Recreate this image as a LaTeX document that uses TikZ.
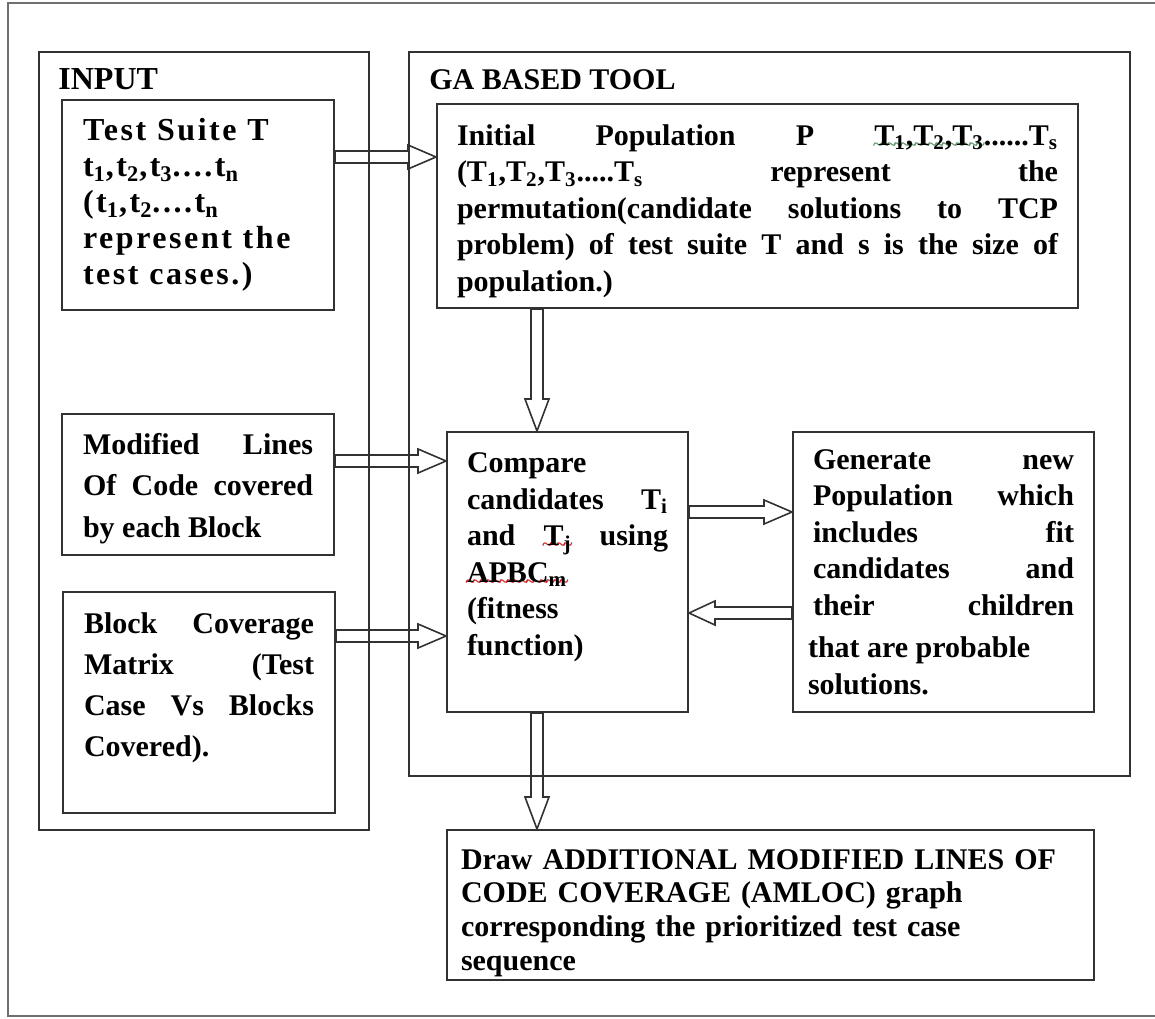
\documentclass[tikz,border=0pt]{standalone}
\usepackage{fontspec}
\setmainfont{Liberation Serif}
\newfontfamily\spacedserif[LetterSpace=8]{Liberation Serif}
\usetikzlibrary{positioning,calc}

\definecolor{frame}{RGB}{50,50,50}
\definecolor{squigred}{RGB}{210,40,40}
\definecolor{squiggreen}{RGB}{100,150,110}

% wavy spelling mark under a piece of text
\newcommand\squig[2]{\setbox0\hbox{#2}\rlap{\textcolor{#1}{\lower2.5pt\hbox to\wd0{\xleaders\hbox{\kern-0.7pt\bfseries\fontsize{9}{9}\selectfont\textasciitilde\kern-0.7pt}\hfil}}}\box0\relax}
% shift node text up (positive) or down (negative)
\newcommand\textlift[1]{\par\vspace*{#1}\hrule height 0pt}

\tolerance=10000
\hyphenpenalty=10000

\begin{document}
\begin{tikzpicture}[x=0.5pt, y=-0.5pt,
    panel/.style={draw=frame, line width=1pt, anchor=north west, inner sep=0pt},
    paneltitle/.style={anchor=base west, inner sep=0pt, font=\bfseries\fontsize{16}{18}\selectfont},
    inbox/.style={draw=frame, line width=1pt, anchor=north west, inner xsep=10.5pt, text width=115pt, align=justify, font=\bfseries\fontsize{15}{20.5}\selectfont},
    gabox/.style={draw=frame, line width=1pt, anchor=north west, inner xsep=10pt, align=justify, font=\bfseries\fontsize{15}{18.25}\selectfont},
    blockarrow/.style={draw=frame, line width=0.8pt, to path={
        let \p1=($(\tikztotarget)-(\tikztostart)$), \n1={veclen(\x1,\y1)-#1} in
        ($(\tikztostart)!3pt!90:(\tikztotarget)$)
        -- ($($(\tikztostart)!\n1!(\tikztotarget)$)!3pt!90:(\tikztotarget)$)
        -- ($($(\tikztostart)!\n1!(\tikztotarget)$)!6pt!90:(\tikztotarget)$)
        -- (\tikztotarget)
        -- ($($(\tikztostart)!\n1!(\tikztotarget)$)!6pt!-90:(\tikztotarget)$)
        -- ($($(\tikztostart)!\n1!(\tikztotarget)$)!3pt!-90:(\tikztotarget)$)
        -- ($(\tikztostart)!3pt!-90:(\tikztotarget)$)
        -- cycle}},
    blockarrow/.default=14pt
]
\useasboundingbox (0,0) rectangle (1155,1018);

% page frame
\draw[frame!70, line width=1pt] (1155,3) -- (8,3) -- (8,1016) -- (1155,1016);

% the two panels
\node[panel, minimum width=165pt, minimum height=389pt] (inp) at (38,51) {};
\node[panel, minimum width=360.5pt, minimum height=362pt] (ga) at (408,51) {};
\node[paneltitle] (inptitle) at (58,89) {INPUT};
\node[paneltitle, font=\bfseries\fontsize{15}{18}\selectfont] (gatitle) at (429,89) {GA BASED TOOL};

% inputs
\node[inbox, align=left, font=\spacedserif\bfseries\fontsize{16}{18}\selectfont, minimum height=105pt] (ts) at (61,99)
  {Test Suite T\\
   t\textsubscript{1},t\textsubscript{2},t\textsubscript{3}....t\textsubscript{n}\\
   (t\textsubscript{1},t\textsubscript{2}....t\textsubscript{n}\\
   represent the\\
   test cases.)};
\node[inbox, font=\bfseries\fontsize{15}{20.75}\selectfont, minimum height=70.5pt] (mod) at (61,413)
  {Modified Lines\linebreak Of Code covered\linebreak by each Block\textlift{-4pt}};
\node[inbox, minimum height=110.5pt] (blk) at (62,591)
  {Block Coverage\linebreak Matrix (Test\linebreak Case Vs Blocks\linebreak Covered).\textlift{15pt}};

% GA based tool
\node[gabox, text width=300.5pt, minimum height=102pt] (ip) at (436,103)
  {Initial Population P \squig{squiggreen}{T\textsubscript{1},T\textsubscript{2},T\textsubscript{3}}......T\textsubscript{s}\linebreak
   (T\textsubscript{1},T\textsubscript{2},T\textsubscript{3}.....T\textsubscript{s} represent the\linebreak
   permutation(candidate solutions to TCP\linebreak
   problem) of test suite T and s is the size of\linebreak
   population.)\textlift{-5pt}};
\node[gabox, text width=100.5pt, minimum height=140pt] (cmp) at (446,431)
  {Compare\newline
   candidates T\textsubscript{i}\linebreak
   and \squig{squigred}{T\textsubscript{j}} using\linebreak
   \squig{squigred}{APBC\textsubscript{m}}\newline
   (fitness\newline
   function)\textlift{15pt}};
\node[gabox, text width=130.5pt, minimum height=140pt] (gen) at (792,431)
  {Generate new\linebreak Population which\linebreak includes fit\linebreak candidates and\linebreak their children\parfillskip=0pt\par
   \parfillskip=0pt plus 1fil\vspace*{3pt}%
   \hspace*{-2.5pt}that are probable\newline
   \hspace*{-2.5pt}solutions.};

% output
\node[gabox, align=left, inner xsep=7pt, text width=309.5pt, minimum height=75pt, font=\bfseries\fontsize{15}{16.85}\selectfont] (drw) at (446,829)
  {Draw ADDITIONAL MODIFIED LINES OF\\
   CODE COVERAGE (AMLOC) graph\\
   corresponding the prioritized test case\\
   sequence\textlift{-8pt}};

% block arrows
\draw[blockarrow] ($(ts.north east)+(0,58)$) to ($(ip.north west)+(0,54)$);
\draw[blockarrow] ($(mod.north east)+(0,48)$) to ($(cmp.north west)+(0,30)$);
\draw[blockarrow] ($(blk.north east)+(0,45)$) to ($(cmp.north west)+(0,205)$);
\draw[blockarrow] ($(cmp.north east)+(0,81)$) to ($(gen.north west)+(0,81)$);
\draw[blockarrow=13pt] ($(gen.north west)+(0,182)$) to ($(cmp.north east)+(0,182)$);
\draw[blockarrow=16pt] ($(ip.south west)+(101,0)$) to ($(cmp.north west)+(91,0)$);
\draw[blockarrow=16pt] ($(cmp.south west)+(91,0)$) to ($(drw.north west)+(91,0)$);

\end{tikzpicture}
\end{document}
